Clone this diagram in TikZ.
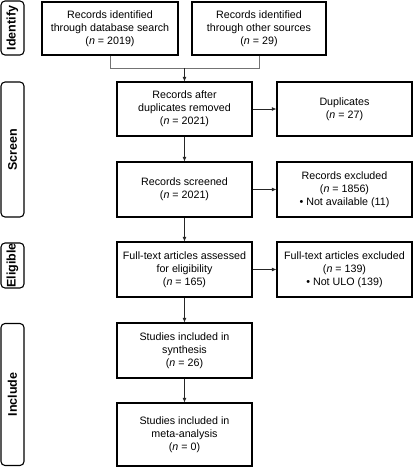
\documentclass[tikz,border=0pt]{standalone}
\usepackage{fontspec}
\setmainfont{Liberation Sans}
\usetikzlibrary{arrows.meta}
\tikzset{
  box/.style={draw=black, line width=1.1pt, minimum width=135pt, align=center, inner sep=0pt,
    font=\fontsize{10.7pt}{13pt}\selectfont},
  tab/.style={draw=black, line width=1.1pt, rounded corners=4pt, minimum width=23pt, inner sep=0pt},
  tablabel/.style={rotate=90, font=\fontsize{12.5pt}{14pt}\selectfont\bfseries},
  conn/.style={draw=black!85, line width=0.8pt, -{Latex[length=4.5pt,width=4pt]}},
  merge/.style={draw=black!55, line width=0.8pt},
}
\begin{document}
\begin{tikzpicture}[x=1pt,y=1pt]
\useasboundingbox (0,0) rectangle (414,-467);
% stage tabs
\node[tab, minimum height=54pt] (t1) at (12.5,-28) {};
\node[tablabel] (l1) at (t1.center) {Identify};
\node[tab, minimum height=135pt] (t2) at (12.5,-149.5) {};
\node[tablabel] (l2) at (t2.center) {Screen};
\node[tab, minimum height=45pt] (t3) at (12.5,-265.5) {};
\node[tablabel] (l3) at (t3.center) {Eligible};
\node[tab, minimum height=142pt] (t4) at (12.5,-394.5) {};
\node[tablabel] (l4) at (t4.center) {Include};
% boxes
\node[box, minimum width=136pt, minimum height=53pt] (b1) at (110,-28.5)
  {Records identified\\through database search\\(\textit{n} = 2019)};
\node[box, minimum width=134pt, minimum height=53pt] (b2) at (259,-28.5)
  {Records identified\\through other sources\\(\textit{n} = 29)};
\node[box, minimum height=54pt] (b3) at (184.5,-109)
  {Records after\\duplicates removed\\(\textit{n} = 2021)};
\node[box, minimum height=54pt] (d1) at (344.5,-109)
  {Duplicates\\(\textit{n} = 27)};
\node[box, minimum height=55pt] (b4) at (184.5,-189.5)
  {Records screened\\(\textit{n} = 2021)};
\node[box, minimum height=55pt] (d2) at (344.5,-189.5)
  {Records excluded\\(\textit{n} = 1856)\\\textbullet\ Not available (11)};
\node[box, minimum height=55pt] (b5) at (184.5,-269.5)
  {Full-text articles assessed\\for eligibility\\(\textit{n} = 165)};
\node[box, minimum height=55pt] (d3) at (344.5,-269.5)
  {Full-text articles excluded\\(\textit{n} = 139)\\\textbullet\ Not ULO (139)};
\node[box, minimum height=55pt] (b6) at (184.5,-350.5)
  {Studies included in\\synthesis\\(\textit{n} = 26)};
\node[box, minimum height=63pt] (b7) at (184.5,-434.5)
  {Studies included in\\meta-analysis\\(\textit{n} = 0)};
% merge
\coordinate (m) at (b3.north |- 0,-68);
\draw[merge] (b1.south) |- (m);
\draw[merge] (b2.south) |- (m);
\draw[conn] (m) -- (b3.north);
% connectors
\draw[conn] (b3) -- (d1);
\draw[conn] (b3) -- (b4);
\draw[conn] (b4) -- (d2);
\draw[conn] (b4) -- (b5);
\draw[conn] (b5) -- (d3);
\draw[conn] (b5) -- (b6);
\draw[conn] (b6) -- (b7);
\end{tikzpicture}
\end{document}
